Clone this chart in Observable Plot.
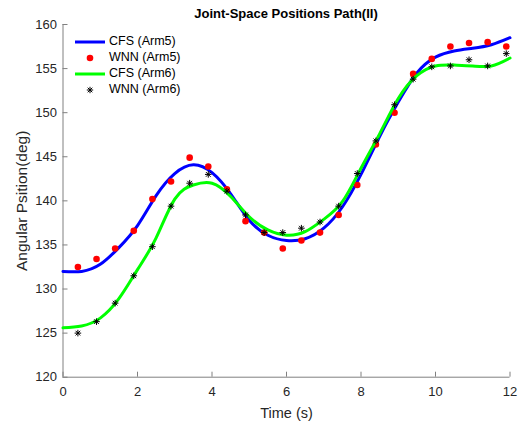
<!DOCTYPE html>
<html>
<head>
<meta charset="utf-8">
<script src="https://cdn.jsdelivr.net/npm/d3@7"></script>
<script src="https://cdn.jsdelivr.net/npm/@observablehq/plot@0.6"></script>
<style>
  html, body { margin: 0; padding: 0; background: #fff; }
  #fig { position: relative; width: 522px; height: 423px; font-family: "Liberation Sans", Arial, sans-serif; }
  #title { position: absolute; left: 62.5px; width: 447px; top: 6px; line-height: 16px; font-size: 13px; font-weight: bold; text-align: center; color: #000; }
  #legend { position: absolute; left: 70px; top: 34px; font-size: 12.5px; color: #000; }
  .row { position: relative; height: 15.9px; line-height: 15.9px; }
  .row svg { position: absolute; left: 0; top: 0; }
  .row span { position: absolute; left: 39px; top: 0; white-space: nowrap; }
</style>
</head>
<body>
<div id="fig">
  <div id="title"></div>
  <div id="legend"></div>
</div>
<script>
// Time grid of the closed-form solution curves (s)
const tCurve = [0, 0.5, 1, 1.5, 2, 2.5, 3, 3.5, 4, 4.5, 5, 5.5, 6, 6.5, 7, 7.5, 8, 8.5, 9, 9.5, 10, 10.5, 11, 11.5, 12];
// CFS joint angle, arm 5 (deg)
const cfsArm5 = [132.0, 132.0, 132.8, 134.7, 137.2, 140.6, 143.1, 144.1, 143.2, 140.8, 137.8, 136.1, 135.5, 135.7, 136.9, 139.3, 143.0, 147.3, 151.2, 154.5, 156.3, 157.0, 157.3, 157.7, 158.5];
// CFS joint angle, arm 6 (deg)
const cfsArm6 = [125.6, 125.8, 126.7, 128.9, 132.2, 135.8, 140.2, 141.8, 142.0, 140.5, 138.2, 136.7, 136.1, 136.5, 137.9, 139.9, 143.7, 147.6, 151.6, 154.2, 155.3, 155.4, 155.3, 155.3, 156.2];

// Sample times of the WNN outputs (s)
const tWnn = [0.4, 0.9, 1.4, 1.9, 2.4, 2.9, 3.4, 3.9, 4.4, 4.9, 5.4, 5.9, 6.4, 6.9, 7.4, 7.9, 8.4, 8.9, 9.4, 9.9, 10.4, 10.9, 11.4, 11.9];
// WNN joint angle, arm 5 (deg)
const wnnArm5 = [132.5, 133.4, 134.6, 136.6, 140.2, 142.2, 144.9, 143.9, 141.3, 137.7, 136.4, 134.6, 135.5, 136.4, 138.4, 141.8, 146.4, 150.0, 154.4, 156.1, 157.5, 157.9, 158.0, 157.5];
// WNN joint angle, arm 6 (deg)
const wnnArm6 = [125.0, 126.3, 128.4, 131.5, 134.8, 139.4, 142.0, 143.0, 141.1, 138.4, 136.4, 136.4, 136.9, 137.6, 139.4, 143.1, 146.8, 150.9, 153.8, 155.2, 155.3, 156.0, 155.3, 156.7];

const xTicks = [0, 2, 4, 6, 8, 10, 12];
const yTicks = [120, 125, 130, 135, 140, 145, 150, 155, 160];

const titleText = "Joint-Space Positions Path(II)";
const xLabel = "Time (s)";
const yLabel = "Angular Psition(deg)";
const seriesNames = ["CFS (Arm5)", "WNN (Arm5)", "CFS (Arm6)", "WNN (Arm6)"];

const curve5 = tCurve.map((t, i) => ({t, v: cfsArm5[i]}));
const curve6 = tCurve.map((t, i) => ({t, v: cfsArm6[i]}));
const pts5 = tWnn.map((t, i) => ({t, v: wnnArm5[i]}));
const pts6 = tWnn.map((t, i) => ({t, v: wnnArm6[i]}));

// MATLAB-style "*" marker: plus and cross combined
const star = {
  draw(ctx, size) {
    const r = Math.sqrt(size / Math.PI);
    const d = r * Math.SQRT1_2;
    ctx.moveTo(-r, 0); ctx.lineTo(r, 0);
    ctx.moveTo(0, -r); ctx.lineTo(0, r);
    ctx.moveTo(-d, -d); ctx.lineTo(d, d);
    ctx.moveTo(-d, d); ctx.lineTo(d, -d);
  }
};

const axisColor = "#808080";
const textColor = "#262626";
const noLabel = () => "";

const chart = Plot.plot({
  width: 522,
  height: 423,
  marginLeft: 62.5,
  marginRight: 12.5,
  marginTop: 24,
  marginBottom: 46.3,
  style: {fontFamily: "Liberation Sans, Arial, sans-serif", fontSize: "13px", color: textColor, background: "transparent"},
  x: {domain: [0, 12]},
  y: {domain: [120, 160]},
  marks: [
    Plot.ruleY([120], {stroke: axisColor}),
    Plot.ruleX([0], {stroke: axisColor}),
    // inward tick marks
    Plot.axisX(xTicks, {tickSize: 5, dy: -5, tickFormat: noLabel, stroke: axisColor, label: null}),
    Plot.axisY(yTicks, {tickSize: 5, dx: 5, tickFormat: noLabel, stroke: axisColor, label: null}),
    // tick labels
    Plot.axisX(xTicks, {tickSize: 0, tickPadding: 10, fill: textColor, label: null}),
    Plot.axisY(yTicks, {tickSize: 0, tickPadding: 6, fill: textColor, label: null}),
    Plot.text([xLabel], {frameAnchor: "bottom", dy: 41, fontSize: 14.5, fill: textColor, lineAnchor: "bottom"}),
    Plot.text([yLabel], {frameAnchor: "left", textAnchor: "middle", dx: -40.5, rotate: -90, fontSize: 15.5, fill: textColor, lineAnchor: "middle"}),
    Plot.line(curve5, {x: "t", y: "v", curve: "natural", stroke: "#0000ff", strokeWidth: 3}),
    Plot.dot(pts5, {x: "t", y: "v", r: 3.3, fill: "#ff0000", stroke: "none"}),
    Plot.line(curve6, {x: "t", y: "v", curve: "natural", stroke: "#00ff00", strokeWidth: 3}),
    Plot.dot(pts6, {x: "t", y: "v", r: 3.3, symbol: star, stroke: "#000", strokeWidth: 1, fill: "none"})
  ]
});

const fig = document.getElementById("fig");
fig.insertBefore(chart, fig.firstChild);
document.getElementById("title").textContent = titleText;

// Legend rows: swatch + series name
const swatches = [
  `<line x1="5" y1="8" x2="35" y2="8" stroke="#0000ff" stroke-width="3"/>`,
  `<circle cx="20" cy="8" r="3.3" fill="#ff0000"/>`,
  `<line x1="5" y1="8" x2="35" y2="8" stroke="#00ff00" stroke-width="3"/>`,
  `<g stroke="#000" stroke-width="1"><line x1="16.8" y1="8" x2="23.2" y2="8"/><line x1="20" y1="4.8" x2="20" y2="11.2"/><line x1="17.7" y1="5.7" x2="22.3" y2="10.3"/><line x1="17.7" y1="10.3" x2="22.3" y2="5.7"/></g>`
];
const legend = document.getElementById("legend");
seriesNames.forEach((name, i) => {
  const row = document.createElement("div");
  row.className = "row";
  row.innerHTML = `<svg width="40" height="16">${swatches[i]}</svg><span></span>`;
  row.querySelector("span").textContent = name;
  legend.appendChild(row);
});
</script>
</body>
</html>
